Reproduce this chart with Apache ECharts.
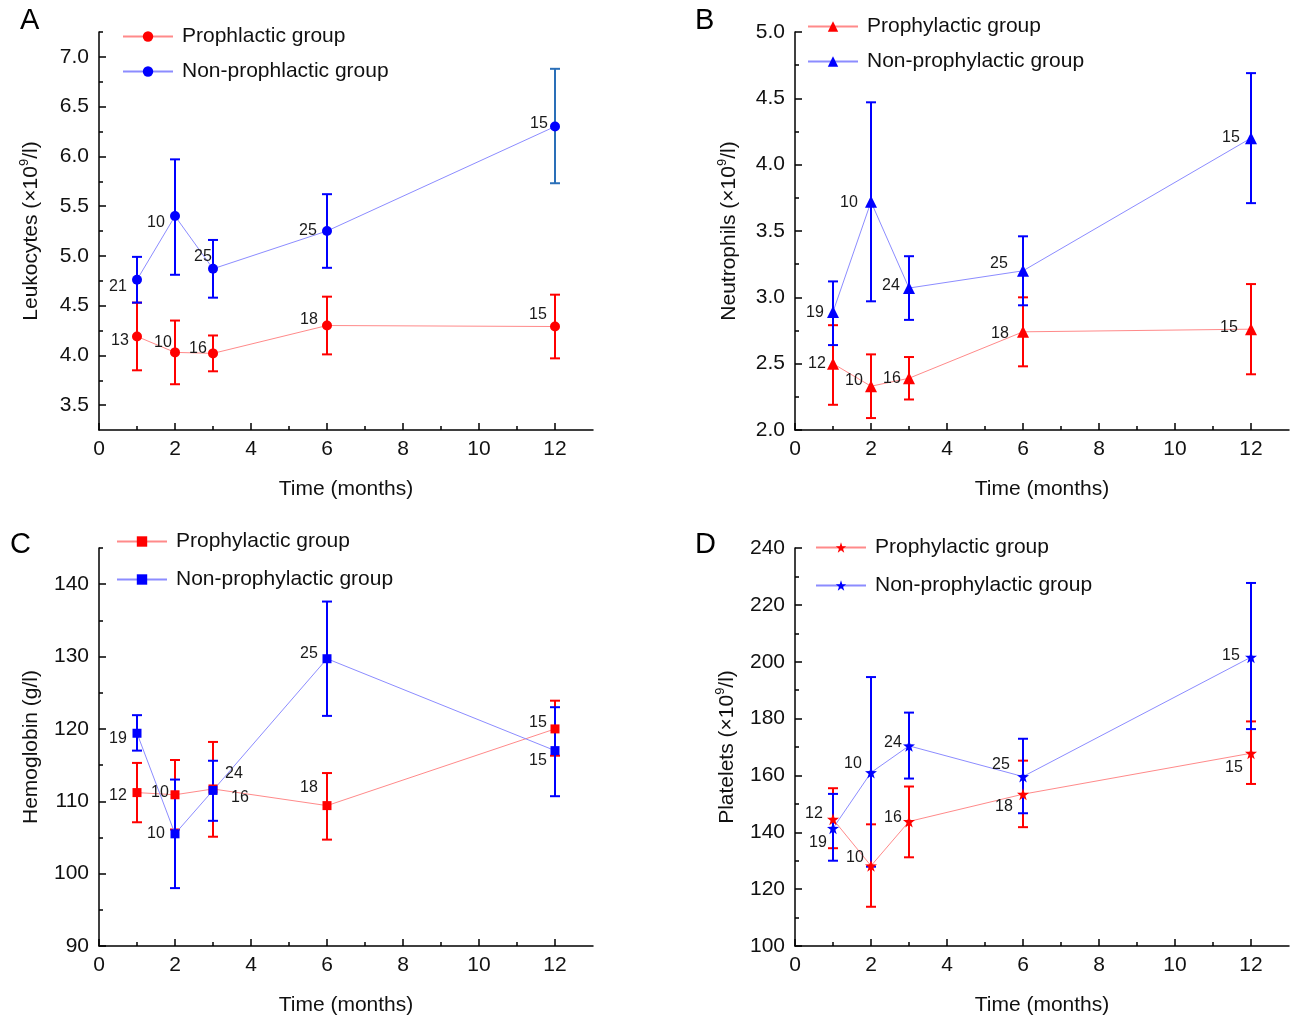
<!DOCTYPE html>
<html>
<head>
<meta charset="utf-8">
<title>Blood counts over time</title>
<script src="https://cdn.jsdelivr.net/npm/echarts@6/dist/echarts.min.js"></script>
<style>
html, body { margin: 0; padding: 0; background: #fff; }
#main { width: 1292px; height: 1019px; }
</style>
</head>
<body>
<div id="main"></div>
<script>
var months = [1, 2, 3, 6, 12];
var xMajor = [0, 2, 4, 6, 8, 10, 12];
var xMinor = [1, 3, 5, 7, 9, 11];

// A - leukocytes
var leuProMean = [4.19, 4.03, 4.02, 4.30, 4.29];
var leuProLow = [3.85, 3.71, 3.84, 4.01, 3.97];
var leuProHigh = [4.53, 4.35, 4.20, 4.59, 4.61];
var leuProN = [13, 10, 16, 18, 15];
var leuNonMean = [4.76, 5.40, 4.87, 5.25, 6.30];
var leuNonLow = [4.53, 4.81, 4.58, 4.88, 5.73];
var leuNonHigh = [4.99, 5.97, 5.16, 5.62, 6.88];
var leuNonN = [21, 10, 25, 25, 15];
var leuTicks = [3.5, 4.0, 4.5, 5.0, 5.5, 6.0, 6.5, 7.0];
var leuMinor = [3.75, 4.25, 4.75, 5.25, 5.75, 6.25, 6.75, 7.25];

// B - neutrophils
var neuProMean = [2.50, 2.33, 2.39, 2.74, 2.76];
var neuProLow = [2.19, 2.09, 2.23, 2.48, 2.42];
var neuProHigh = [2.79, 2.57, 2.55, 3.00, 3.10];
var neuProN = [12, 10, 16, 18, 15];
var neuNonMean = [2.89, 3.72, 3.07, 3.20, 4.20];
var neuNonLow = [2.64, 2.97, 2.83, 2.94, 3.71];
var neuNonHigh = [3.12, 4.47, 3.31, 3.46, 4.69];
var neuNonN = [19, 10, 24, 25, 15];
var neuTicks = [2.0, 2.5, 3.0, 3.5, 4.0, 4.5, 5.0];
var neuMinor = [2.25, 2.75, 3.25, 3.75, 4.25, 4.75];

// C - hemoglobin
var hbProMean = [111.2, 110.9, 111.7, 109.4, 120.0];
var hbProLow = [107.1, 106.1, 105.1, 104.7, 116.3];
var hbProHigh = [115.3, 115.7, 118.2, 113.9, 123.9];
var hbProN = [12, 10, 16, 18, 15];
var hbNonMean = [119.4, 105.5, 111.5, 129.7, 117.0];
var hbNonLow = [117.0, 98.0, 107.3, 121.8, 110.7];
var hbNonHigh = [121.9, 113.0, 115.6, 137.6, 123.0];
var hbNonN = [19, 10, 24, 25, 15];
var hbTicks = [90, 100, 110, 120, 130, 140];
var hbMinor = [95, 105, 115, 125, 135, 145];

// D - platelets
var pltProMean = [144.6, 128.2, 143.8, 153.4, 167.8];
var pltProLow = [134.4, 113.8, 131.2, 141.8, 157.0];
var pltProHigh = [155.5, 142.8, 156.1, 165.2, 179.0];
var pltProN = [12, 10, 16, 18, 15];
var pltNonMean = [141.4, 161.0, 170.4, 159.6, 201.6];
var pltNonLow = [130.0, 127.9, 158.9, 146.7, 176.3];
var pltNonHigh = [153.5, 194.6, 182.1, 172.9, 227.7];
var pltNonN = [19, 10, 24, 25, 15];
var pltTicks = [100, 120, 140, 160, 180, 200, 220, 240];
var pltMinor = [110, 130, 150, 170, 190, 210, 230];

/**
 * 标签偏移（相对于数据点中心）
 * **/
var shiftAPro = [[-17, 4], [-12, -10], [-15, -5], [-18, -6], [-17, -12]];
var shiftANon = [[-19, 7], [-19, 7], [-10, -12], [-19, 0], [-16, -3]];
var shiftBPro = [[-16, 0], [-17, -6], [-17, 0], [-23, 2], [-22, -2]];
var shiftBNon = [[-18, 1], [-22, 1], [-18, -2], [-24, -7], [-20, -1]];
var shiftCPro = [[-19, 3], [-15, -2], [27, 9], [-18, -18], [-17, -6]];
var shiftCNon = [[-19, 5], [-19, 0], [21, -17], [-18, -5], [-17, 10]];
var shiftDPro = [[-19, -6], [-16, -8], [-16, -4], [-19, 12], [-17, 14]];
var shiftDNon = [[-15, 14], [-18, -9], [-16, -3], [-22, -12], [-20, -2]];

var FONT = '"Liberation Sans", Arial, Helvetica, sans-serif';
var RED = '#ff0000', BLUE = '#0000ff';
var RED_LINE = '#ff8a8a', BLUE_LINE = '#8c8cff';

var panels = [
	{
		letter: 'A', left: 99, top: 32, legendLeft: 122, legendTop: 26, legendGap: 14,
		yMin: 3.25, yMax: 7.25, ticks: leuTicks, minor: leuMinor, fmt: function(v) { return v.toFixed(1); },
		yName: 'Leukocytes (×10{sup|9}/l)', yGap: 55, symbol: 'circle', size: 10,
		names: ['Prophlactic group', 'Non-prophlactic group'],
		pro: [leuProMean, leuProLow, leuProHigh, leuProN, shiftAPro],
		non: [leuNonMean, leuNonLow, leuNonHigh, leuNonN, shiftANon],
		nonErrColors: [BLUE, BLUE, BLUE, BLUE, '#2a6fb8']
	},
	{
		letter: 'B', left: 795, top: 32, legendLeft: 807, legendTop: 16, legendGap: 14,
		yMin: 2.0, yMax: 5.0, ticks: neuTicks, minor: neuMinor, fmt: function(v) { return v.toFixed(1); },
		yName: 'Neutrophils (×10{sup|9}/l)', yGap: 53, symbol: 'triangle', size: 12,
		names: ['Prophylactic group', 'Non-prophylactic group'],
		pro: [neuProMean, neuProLow, neuProHigh, neuProN, shiftBPro],
		non: [neuNonMean, neuNonLow, neuNonHigh, neuNonN, shiftBNon]
	},
	{
		letter: 'C', left: 99, top: 548, legendLeft: 116, legendTop: 531, legendGap: 17,
		yMin: 90, yMax: 145, ticks: hbTicks, minor: hbMinor, fmt: function(v) { return String(v); },
		yName: 'Hemoglobin (g/l)', yGap: 55, symbol: 'rect', size: 9,
		names: ['Prophylactic group ', 'Non-prophylactic group '],
		pro: [hbProMean, hbProLow, hbProHigh, hbProN, shiftCPro],
		non: [hbNonMean, hbNonLow, hbNonHigh, hbNonN, shiftCNon]
	},
	{
		letter: 'D', left: 795, top: 548, legendLeft: 815, legendTop: 537, legendGap: 17,
		yMin: 100, yMax: 240, ticks: pltTicks, minor: pltMinor, fmt: function(v) { return String(v); },
		yName: 'Platelets (×10{sup|9}/l)', yGap: 55, symbol: 'path://M0,-10L2.35,-3.24L9.51,-3.09L3.8,1.24L5.88,8.09L0,4L-5.88,8.09L-3.8,1.24L-9.51,-3.09L-2.35,-3.24Z', size: 12,
		names: ['Prophylactic group  ', 'Non-prophylactic group  '],
		pro: [pltProMean, pltProLow, pltProHigh, pltProN, shiftDPro],
		non: [pltNonMean, pltNonLow, pltNonHigh, pltNonN, shiftDNon]
	}
];

var grids = [], xAxes = [], yAxes = [], series = [], legends = [], titles = [];

function errorBars(xi, yi, low, high, colors) {
	return {
		type: 'custom',
		xAxisIndex: xi,
		yAxisIndex: yi,
		silent: true,
		z: 2,
		renderItem: function(params, api) {
			var top = api.coord([api.value(0), api.value(2)]);
			var bot = api.coord([api.value(0), api.value(1)]);
			var w = 5;
			var st = { stroke: colors[params.dataIndex], lineWidth: 2 };
			return {
				type: 'group',
				children: [
					{ type: 'line', shape: { x1: top[0], y1: top[1], x2: bot[0], y2: bot[1] }, style: st },
					{ type: 'line', shape: { x1: top[0] - w, y1: top[1], x2: top[0] + w, y2: top[1] }, style: st },
					{ type: 'line', shape: { x1: bot[0] - w, y1: bot[1], x2: bot[0] + w, y2: bot[1] }, style: st }
				]
			};
		},
		encode: { x: 0, y: [1, 2] },
		data: months.map(function(m, k) { return [m, low[k], high[k]]; })
	};
}

function lineSeries(name, xi, yi, p, set, color, lineColor) {
	return {
		name: name,
		type: 'line',
		xAxisIndex: xi,
		yAxisIndex: yi,
		symbol: p.symbol,
		symbolSize: p.size,
		z: 3,
		itemStyle: { color: color },
		lineStyle: { color: lineColor, width: 1 },
		data: months.map(function(m, k) {
			return {
				value: [m, set[0][k]],
				label: {
					show: true,
					position: 'inside',
					offset: set[4][k],
					formatter: String(set[3][k]),
					color: '#1a1a1a',
					fontSize: 16,
					fontFamily: FONT
				}
			};
		})
	};
}

panels.forEach(function(p, i) {
	grids.push({ left: p.left, top: p.top, width: 494, height: 398 });
	var xi = 2 * i, yi = 2 * i;
	xAxes.push({
		type: 'value', gridIndex: i, position: 'bottom', min: 0, max: 13,
		name: 'Time (months)', nameLocation: 'middle', nameGap: 49,
		nameTextStyle: { fontSize: 21, fontFamily: FONT, color: '#111' },
		axisLine: { lineStyle: { color: '#000', width: 1.5 } },
		axisTick: { inside: true, length: 7, customValues: xMajor, lineStyle: { color: '#000', width: 1.5 } },
		axisLabel: { customValues: xMajor, margin: 9, fontSize: 21, fontFamily: FONT, color: '#111' },
		splitLine: { show: false }
	}, {
		type: 'value', gridIndex: i, position: 'bottom', min: 0, max: 13,
		axisLine: { show: false },
		axisTick: { inside: true, length: 4, customValues: xMinor, lineStyle: { color: '#000', width: 1.5 } },
		axisLabel: { show: false },
		splitLine: { show: false }
	});
	yAxes.push({
		type: 'value', gridIndex: i, position: 'left', min: p.yMin, max: p.yMax,
		name: p.yName, nameLocation: 'middle', nameGap: p.yGap,
		nameTextStyle: {
			fontSize: 21, fontFamily: FONT, color: '#111', lineHeight: 26,
			rich: { sup: { fontSize: 13, fontFamily: FONT, color: '#111', verticalAlign: 'top', lineHeight: 26 } }
		},
		axisLine: { show: true, lineStyle: { color: '#000', width: 1.5 } },
		axisTick: { show: true, inside: true, length: 7, customValues: p.ticks, lineStyle: { color: '#000', width: 1.5 } },
		axisLabel: { customValues: p.ticks, margin: 10, fontSize: 21, fontFamily: FONT, color: '#111', formatter: p.fmt },
		splitLine: { show: false }
	}, {
		type: 'value', gridIndex: i, position: 'left', min: p.yMin, max: p.yMax,
		axisLine: { show: false },
		axisTick: { show: true, inside: true, length: 4, customValues: p.minor, lineStyle: { color: '#000', width: 1.5 } },
		axisLabel: { show: false },
		splitLine: { show: false }
	});
	var proColors = months.map(function() { return RED; });
	var nonColors = p.nonErrColors || months.map(function() { return BLUE; });
	series.push(errorBars(xi, yi, p.pro[1], p.pro[2], proColors));
	series.push(errorBars(xi, yi, p.non[1], p.non[2], nonColors));
	series.push(lineSeries(p.names[0], xi, yi, p, p.pro, RED, RED_LINE));
	series.push(lineSeries(p.names[1], xi, yi, p, p.non, BLUE, BLUE_LINE));
	legends.push({
		data: p.names, orient: 'vertical', left: p.legendLeft, top: p.legendTop,
		itemWidth: 50, itemHeight: 13, itemGap: p.legendGap, padding: 0,
		selectedMode: false,
		textStyle: { fontSize: 21, fontFamily: FONT, color: '#111', padding: [0, 0, 0, 4] }
	});
	titles.push({
		text: p.letter, left: p.letter === 'C' ? 10 : (i % 2 === 0 ? 20 : 695), top: i < 2 ? 6 : 530, padding: 0,
		textStyle: { fontSize: 29, fontWeight: 'normal', fontFamily: FONT, color: '#000' }
	});
});

var myChart = echarts.init(document.getElementById('main'));
var option = {
	animation: false,
	backgroundColor: '#fff',
	title: titles,
	legend: legends,
	grid: grids,
	xAxis: xAxes,
	yAxis: yAxes,
	series: series
};
myChart.setOption(option);
</script>
</body>
</html>
